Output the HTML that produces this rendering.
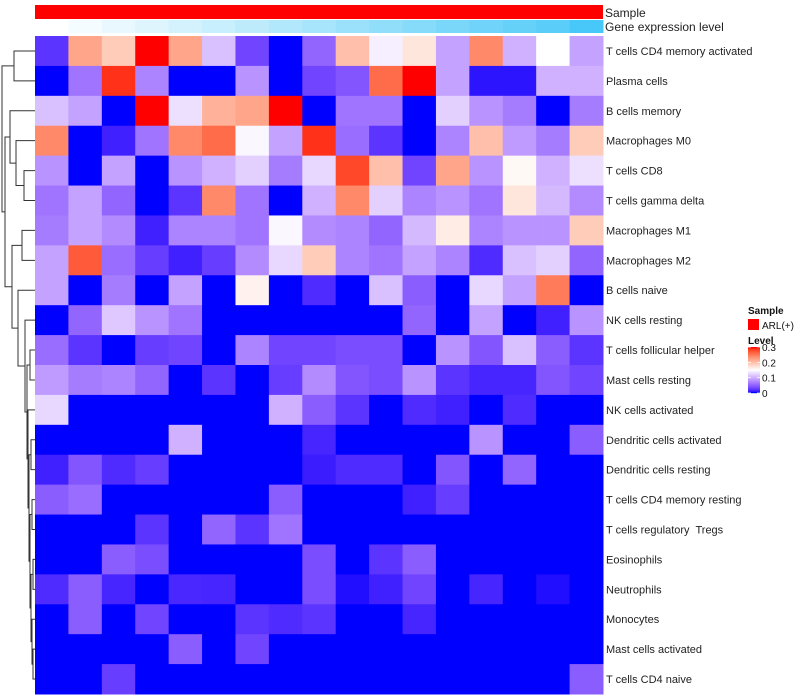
<!DOCTYPE html>
<html><head><meta charset="utf-8"><style>
body{margin:0;background:#fff;}
svg{display:block;font-family:"Liberation Sans",sans-serif;}
text{white-space:pre;}
</style></head><body>
<svg id="chart" width="800" height="700" viewBox="0 0 800 700">
<g id="dendro" stroke="#333" stroke-width="1" fill="none"></g>
<g id="anno"></g>
<g id="cells"></g>
<g id="rowlabels" font-size="11" fill="#222"></g>
<g id="legend"></g>
</svg>
<script>
const rowNames = ["T cells CD4 memory activated","Plasma cells","B cells memory","Macrophages M0","T cells CD8","T cells gamma delta","Macrophages M1","Macrophages M2","B cells naive","NK cells resting","T cells follicular helper","Mast cells resting","NK cells activated","Dendritic cells activated","Dendritic cells resting","T cells CD4 memory resting","T cells regulatory  Tregs","Eosinophils","Neutrophils","Monocytes","Mast cells activated","T cells CD4 naive"];
const geneLevel = [0,0.06,0.12,0.18,0.24,0.3,0.36,0.42,0.48,0.54,0.6,0.66,0.72,0.78,0.84,0.9,1];
const r0 = [.02,.22,.19,.3,.22,.11,.03,0,.05,.2,.14,.17,.09,.24,.1,.15,.09];
const r1 = [0,.06,.29,.07,0,0,.08,0,.03,.04,.26,.3,.09,.005,.005,.1,.1];
const r2 = [.11,.09,0,.3,.13,.21,.22,.3,0,.06,.06,0,.12,.08,.065,0,.065];
const r3 = [.24,0,.01,.06,.24,.26,.145,.09,.29,.055,.02,0,.07,.2,.085,.065,.19];
const r4 = [.08,0,.09,0,.08,.1,.12,.065,.125,.28,.2,.03,.22,.08,.155,.1,.13];
const r5 = [.06,.09,.05,0,.02,.24,.06,0,.1,.24,.12,.07,.08,.06,.17,.105,.075];
const r6 = [.065,.09,.075,.01,.07,.07,.06,.145,.075,.07,.05,.105,.165,.07,.08,.08,.19];
const r7 = [.09,.27,.055,.025,.01,.025,.075,.125,.19,.07,.06,.09,.07,.015,.11,.12,.05];
const r8 = [.09,0,.065,0,.09,0,.16,0,.015,0,.11,.045,0,.125,.09,.25,0];
const r9 = [0,.05,.115,.08,.06,0,0,0,0,0,0,.05,0,.09,0,.01,.08];
const r10 = [.055,.02,0,.025,.03,0,.07,.03,.03,.035,.035,0,.08,.04,.11,.045,.02];
const r11 = [.085,.065,.07,.05,0,.02,0,.025,.075,.04,.035,.08,.02,.012,.012,.04,.03];
const r12 = [.125,0,0,0,0,0,0,.1,.045,.02,0,.015,.01,0,.015,0,0];
const r13 = [0,0,0,0,.1,0,0,0,.012,0,0,0,0,.08,0,0,.045];
const r14 = [.01,.04,.015,.025,0,0,0,0,.008,.015,.015,0,.04,0,.05,0,0];
const r15 = [.045,.055,0,0,0,0,0,.045,0,0,0,.01,.025,0,0,0,0];
const r16 = [0,0,0,.02,0,.05,.02,.06,0,0,0,0,0,0,0,0,0];
const r17 = [0,0,.045,.035,0,0,0,0,.035,0,.02,.045,0,0,0,0,0];
const r18 = [.015,.045,.012,0,.013,.012,0,0,.035,.003,.01,.03,0,.012,0,.003,0];
const r19 = [0,.045,0,.03,0,0,.02,.015,.02,0,0,.012,0,0,0,0,0];
const r20 = [0,0,0,0,.045,0,.03,0,0,0,0,0,0,0,0,0,0];
const r21 = [0,0,.025,0,0,0,0,0,0,0,0,0,0,0,0,0,.045];
const values = [r0,r1,r2,r3,r4,r5,r6,r7,r8,r9,r10,r11,r12,r13,r14,r15,r16,r17,r18,r19,r20,r21];
const levelTicks = ["0","0.1","0.2","0.3"];

const NS="http://www.w3.org/2000/svg";
const X0=35,X1=603,Y0=36,Y1=694;
const nC=values[0].length,nR=values.length;
const cw=(X1-X0)/nC,rh=(Y1-Y0)/nR;
const xPos=c=>X0+c*cw, yPos=r=>Y0+r*rh;
function mk(tag,attrs,parent){const e=document.createElementNS(NS,tag);for(const k in attrs)e.setAttribute(k,attrs[k]);parent.appendChild(e);return e;}
function s2l(c){c/=255;return c<=0.04045?c/12.92:Math.pow((c+0.055)/1.055,2.4);}
function l2s(c){c=c<=0.0031308?12.92*c:1.055*Math.pow(c,1/2.4)-0.055;return Math.max(0,Math.min(255,Math.round(c*255)));}
function toLab(rgb){const [r,g,b]=rgb.map(s2l);let x=(r*0.4124+g*0.3576+b*0.1805)/0.95047,y=r*0.2126+g*0.7152+b*0.0722,z=(r*0.0193+g*0.1192+b*0.9505)/1.08883;const f=t=>t>0.008856?Math.cbrt(t):7.787*t+16/116;return [116*f(y)-16,500*(f(x)-f(y)),200*(f(y)-f(z))];}
function fromLab(l){let fy=(l[0]+16)/116,fx=fy+l[1]/500,fz=fy-l[2]/200;const fi=t=>t*t*t>0.008856?t*t*t:(t-16/116)/7.787;let x=fi(fx)*0.95047,y=fi(fy),z=fi(fz)*1.08883;const r=x*3.2406-y*1.5372-z*0.4986,g=-x*0.9689+y*1.8758+z*0.0415,b=x*0.0557-y*0.2040+z*1.0570;return `rgb(${l2s(r)},${l2s(g)},${l2s(b)})`;}
const LB=toLab([0,0,255]),LW=toLab([255,255,255]),LR=toLab([255,0,0]);
function color(v){v=Math.max(0,Math.min(0.3,v));let a,b,t;if(v<=0.15){a=LB;b=LW;t=v/0.15;}else{a=LW;b=LR;t=(v-0.15)/0.15;}return fromLab(a.map((q,i)=>q+(b[i]-q)*t));}
function lerpHex(a,b,t){return `rgb(${a.map((q,i)=>Math.round(q+(b[i]-q)*t)).join(',')})`;}

const cells=document.getElementById('cells');
values.forEach((row,r)=>row.forEach((v,c)=>{
  const e=mk('rect',{x:xPos(c),y:yPos(r),width:cw+0.5,height:rh+0.5,fill:color(v)},cells);
  
  
}));
const rl=document.getElementById('rowlabels');
rowNames.forEach((n,r)=>{
  const t=mk('text',{x:X1+3,y:yPos(r)+rh/2+4},rl);t.textContent=n;
  
  
});
const anno=document.getElementById('anno');
const sb=mk('rect',{x:X0,y:5,width:X1-X0,height:14,fill:'#ff0000'},anno);


geneLevel.forEach((g,c)=>{
  const e=mk('rect',{x:xPos(c),y:20,width:cw+0.5,height:13,fill:lerpHex([255,255,255],[72,200,248],g)},anno);
  
  
});
const t1=mk('text',{x:X1+2,y:17,'font-size':12,fill:'#222'},anno);t1.textContent='Sample';


const t2=mk('text',{x:X1+2,y:31,'font-size':12,fill:'#222'},anno);t2.textContent='Gene expression level';



const lg=document.getElementById('legend');
const lt=mk('text',{x:748,y:314,'font-size':10,'font-weight':'bold',fill:'#111'},lg);lt.textContent='Sample';


const lbx=mk('rect',{x:748,y:319,width:11,height:11,fill:'#ff0000'},lg);


const lbt=mk('text',{x:762,y:329,'font-size':10,fill:'#111'},lg);lbt.textContent='ARL(+)';


const lvt=mk('text',{x:748,y:344,'font-size':10,'font-weight':'bold',fill:'#111'},lg);lvt.textContent='Level';


const cbTop=347,cbBot=393;
for(let i=0;i<46;i++){const v=0.3*(1-i/45);mk('rect',{x:748,y:cbTop+i,width:12,height:1.2,fill:color(v)},lg);}
levelTicks.forEach(s=>{
  const v=parseFloat(s),y=cbBot-(v/0.3)*(cbBot-cbTop);
  mk('line',{x1:748,x2:751,y1:y,y2:y,stroke:'#fff','stroke-width':0.8},lg);
  mk('line',{x1:757,x2:760,y1:y,y2:y,stroke:'#fff','stroke-width':0.8},lg);
  const t=mk('text',{x:762,y:y+4,'font-size':10,fill:'#111'},lg);t.textContent=s;
  
  
});

const tree=[2,[14,0,1],[5,[10,2,[16,3,[24,4,5]]],[12,[22,6,7],[18,8,[25,9,[27,[30,10,11],[28,12,[29,[31,13,14],[30,[32,15,16],[31,[33,17,18],[32,19,[33,20,21]]]]]]]]]]]];
const dg=document.getElementById('dendro');
function draw(n){
  if(typeof n==='number')return {x:X0,y:yPos(n)+rh/2};
  const a=draw(n[1]),b=draw(n[2]),h=n[0];
  mk('path',{d:`M${a.x},${a.y}H${h}V${b.y}H${b.x}`},dg);
  return {x:h,y:(a.y+b.y)/2};
}
draw(tree);
</script>
</body></html>
